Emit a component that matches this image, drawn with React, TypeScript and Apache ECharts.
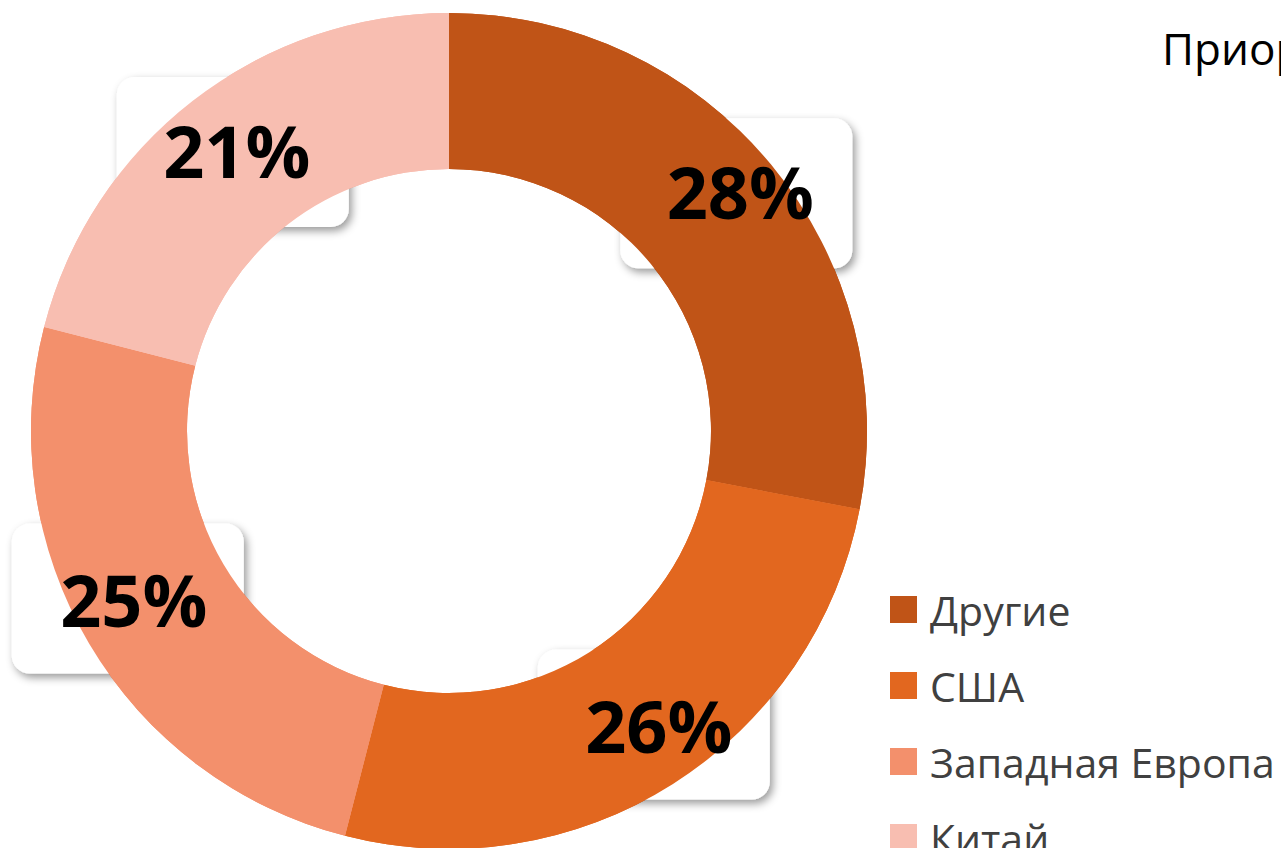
import React, { useEffect, useRef } from "react";
import * as echarts from "echarts";

const categories = ["Другие", "США", "Западная Европа", "Китай"];
const values = [28, 26, 25, 21];
const colors = ["#C05417", "#E2671F", "#F3906C", "#F8BEB1"];
const boxOffsets: number[][] = [
  [23, -19],
  [21, 4],
  [-26, -7],
  [-6, -8],
];
const textOffsets: number[][] = [
  [27, -21],
  [26, 4],
  [-20, -7],
  [-2, -10],
];
const titleText = "Приоритетные рынки";

const FONT = "'Open Sans', 'Noto Sans', sans-serif";

export default function App() {
  const ref = useRef<HTMLDivElement>(null);
  useEffect(() => {
    if (!ref.current) return;
    const chart = echarts.init(ref.current, null, { renderer: "svg" });
    const makeData = (offsets: number[][]) =>
      categories.map((name, i) => ({
        name,
        value: values[i],
        itemStyle: { color: colors[i] },
        label: { offset: offsets[i] },
      }));
    const common = {
      type: "pie",
      silent: true,
      center: [449, 431],
      radius: [262, 418],
      startAngle: 90,
      clockwise: true,
      avoidLabelOverlap: false,
      labelLayout: { hideOverlap: false },
      labelLine: { show: false },
      emphasis: { disabled: true },
    };
    chart.setOption({
      animation: false,
      color: colors,
      title: {
        text: titleText,
        left: 1162,
        top: 26,
        padding: 0,
        textStyle: {
          fontFamily: FONT,
          fontWeight: "normal",
          fontSize: 44,
          color: "#000000",
        },
      },
      legend: {
        orient: "vertical",
        left: 890,
        top: 589,
        height: 400,
        padding: 0,
        itemWidth: 27,
        itemHeight: 27,
        itemGap: 35,
        icon: "rect",
        data: categories,
        selectedMode: false,
        textStyle: {
          fontFamily: FONT,
          fontSize: 41,
          lineHeight: 40,
          color: "#404040",
          padding: [0, 0, 0, 8],
        },
      },
      series: [
        {
          ...common,
          z: 1,
          data: makeData(boxOffsets),
          label: {
            show: true,
            position: "inside",
            width: 232,
            height: 150,
            lineHeight: 150,
            align: "center",
            verticalAlign: "middle",
            fontSize: 20,
            formatter: " ",
            color: "rgba(0,0,0,0)",
            backgroundColor: "#ffffff",
            borderRadius: 18,
            shadowColor: "rgba(0,0,0,0.4)",
            shadowBlur: 8,
            shadowOffsetX: 3,
            shadowOffsetY: 4,
          },
        },
        {
          ...common,
          z: 2,
          data: makeData(textOffsets),
          label: {
            show: true,
            position: "inside",
            overflow: "none",
            formatter: "{c}%",
            fontFamily: FONT,
            fontWeight: "bold",
            fontSize: 72,
            color: "#000000",
          },
        },
      ],
    });
    return () => chart.dispose();
  }, []);
  return (
    <div
      ref={ref}
      style={{ position: "absolute", left: 0, top: 0, width: 1281, height: 848 }}
    />
  );
}
